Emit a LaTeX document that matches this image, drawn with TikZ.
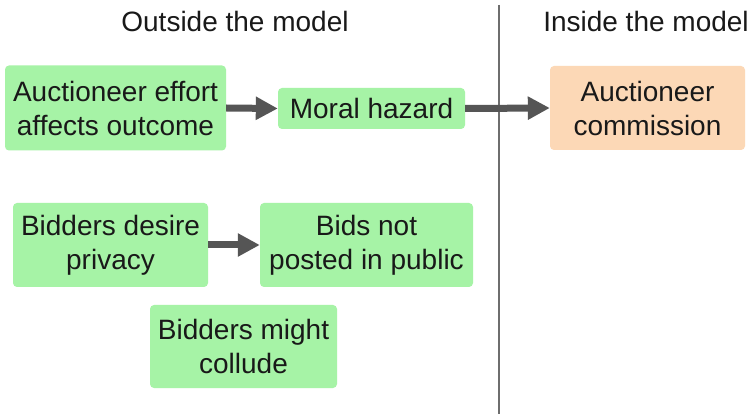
\documentclass[tikz,border=0pt]{standalone}
\usepackage{fontspec}
\setmainfont{Liberation Sans}
\usetikzlibrary{arrows.meta}
\definecolor{boxgreen}{RGB}{166,243,166}
\definecolor{boxpeach}{RGB}{252,216,182}
\definecolor{arrowgray}{RGB}{85,85,85}
\definecolor{divgray}{RGB}{110,110,110}
\definecolor{txt}{RGB}{25,25,25}
\tikzset{
  box/.style={rectangle, rounded corners=4pt, inner sep=0pt, align=center,
    text=txt, font=\fontsize{28}{34}\selectfont},
  gbox/.style={box, fill=boxgreen},
  pbox/.style={box, fill=boxpeach},
  heading/.style={text=txt, font=\fontsize{28}{34}\selectfont, anchor=base},
  flow/.style={draw=arrowgray, line width=7pt, -{Triangle[length=22pt,width=22pt]}},
}
\begin{document}
\begin{tikzpicture}[x=1pt,y=-1pt]
\useasboundingbox (0,0) rectangle (753,414);
\fill[white] (0,0) rectangle (753,414);
% divider
\coordinate (dtop) at (499,5);
\coordinate (dbot) at (499,414);
\draw[divgray, line width=2pt] (dtop) -- (dbot);
% headings
\node[heading] (hout) at (235,32) {Outside the model};
\node[heading] (hin) at (646,32) {Inside the model};
% boxes
\node[gbox, minimum width=221pt, minimum height=85pt] (effort) at (115.5,108) {Auctioneer effort\\affects outcome};
\node[gbox, minimum width=187pt, minimum height=41pt] (moral) at (371.5,108.5) {Moral hazard};
\node[pbox, minimum width=195pt, minimum height=84pt] (comm) at (647.5,108) {Auctioneer\\commission};
\node[gbox, minimum width=195pt, minimum height=84pt] (privacy) at (110.5,245) {Bidders desire\\privacy};
\node[gbox, minimum width=213pt, minimum height=84pt] (bids) at (366.5,245) {Bids not\\posted in public};
\node[gbox, minimum width=187pt, minimum height=83pt] (collude) at (243.5,346.5) {Bidders might\\collude};
% arrows
\draw[flow] (effort.east) -- (moral.west);
\draw[flow] (moral.east) -- (comm.west);
\draw[flow] (privacy.east) -- (bids.west);
\end{tikzpicture}
\end{document}
